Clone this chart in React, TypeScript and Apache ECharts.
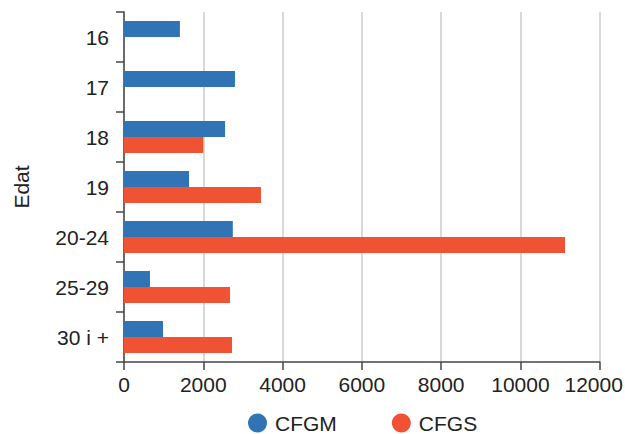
import React, { useEffect, useRef } from "react";
import * as echarts from "echarts";

const categories = ["16", "17", "18", "19", "20-24", "25-29", "30 i +"];
const cfgm = [1410, 2800, 2550, 1640, 2745, 655, 985];
const cfgs = [null, null, 2000, 3455, 11125, 2675, 2725];
const xTicks = { min: 0, max: 12000, interval: 2000 };

export default function App() {
  const ref = useRef<HTMLDivElement>(null);
  useEffect(() => {
    document.body.style.margin = "0";
    document.body.style.overflow = "hidden";
    const chart = echarts.init(ref.current!, null, { renderer: "svg" });
    const font = "'Liberation Sans', Arial, Helvetica, sans-serif";
    chart.setOption({
      animation: false,
      textStyle: { fontFamily: font },
      grid: {
        left: 124,
        top: 12,
        right: 25.3,
        bottom: 72,
        containLabel: false,
        outerBoundsMode: "none",
      },
      legend: {
        top: 412.5,
        left: 248,
        icon: "circle",
        itemWidth: 19,
        itemHeight: 19,
        itemGap: 55,
        padding: 0,
        textStyle: {
          fontSize: 21,
          lineHeight: 21,
          color: "#222",
          fontFamily: font,
          padding: [0, 0, 0, 3],
        },
        data: ["CFGM", "CFGS"],
      },
      xAxis: {
        type: "value",
        min: xTicks.min,
        max: xTicks.max,
        interval: xTicks.interval,
        axisLine: { show: true, lineStyle: { color: "#444", width: 1.5 } },
        axisTick: { show: true, length: 8, lineStyle: { color: "#444", width: 1.5 } },
        axisLabel: {
          fontSize: 21,
          color: "#222",
          margin: 12,
          fontFamily: font,
          formatter: (v: number) => (v === xTicks.max ? `{last|${v}}` : String(v)),
          rich: {
            last: {
              fontSize: 21,
              color: "#222",
              fontFamily: font,
              padding: [0, 12, 0, 0],
            },
          },
        },
        splitLine: { show: true, lineStyle: { color: "#ccc", width: 1.5 } },
      },
      yAxis: {
        type: "category",
        inverse: true,
        data: categories,
        axisLine: { show: true, lineStyle: { color: "#444", width: 1.5 } },
        axisTick: { show: true, length: 8, lineStyle: { color: "#444", width: 1.5 } },
        axisLabel: { fontSize: 21, color: "#222", margin: 15, fontFamily: font },
        splitLine: { show: false },
      },
      graphic: [
        {
          type: "text",
          x: 21,
          y: 187,
          rotation: Math.PI / 2,
          style: {
            text: "Edat",
            fontSize: 21,
            fill: "#222",
            fontFamily: font,
            align: "center",
            verticalAlign: "middle",
          },
        },
      ],
      series: [
        {
          name: "CFGM",
          type: "bar",
          data: cfgm,
          barWidth: 16,
          barGap: "0%",
          itemStyle: { color: "#3174b6" },
        },
        {
          name: "CFGS",
          type: "bar",
          data: cfgs,
          barWidth: 16,
          barGap: "0%",
          itemStyle: { color: "#f05234" },
        },
      ],
    });
    return () => chart.dispose();
  }, []);
  return <div ref={ref} style={{ width: 625, height: 434 }} />;
}
